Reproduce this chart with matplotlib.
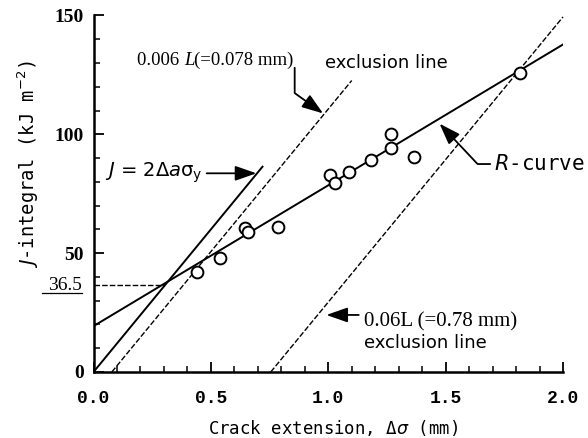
import matplotlib
matplotlib.use("Agg")
import matplotlib.pyplot as plt
from matplotlib.ticker import MultipleLocator
import numpy as np

plt.rcParams['mathtext.fontset'] = 'custom'
plt.rcParams['mathtext.rm'] = 'DejaVu Sans'
plt.rcParams['mathtext.it'] = 'DejaVu Sans:italic'
plt.rcParams['mathtext.bf'] = 'DejaVu Sans:bold'

# ---- data ----
crack_ext = [0.443, 0.538, 0.645, 0.659, 0.786, 1.006, 1.028, 1.089, 1.18, 1.269, 1.269, 1.364, 1.818]
j_values = [42.2, 48.1, 60.5, 58.8, 61.1, 82.9, 79.4, 84.3, 89.2, 94.1, 100.0, 90.6, 125.9]

rcurve_x = [0.0, 2.0]
rcurve_j = [19.3, 137.8]

sigma_y = 60.0                 # blunting line J = 2 * da * sigma_y
blunt_x = [0.0, 0.72]
excl1_x = [0.078, 1.10]        # 0.006L offset line
excl1_off = 0.078
excl2_x = [0.755, 2.0]         # 0.06L offset line
excl2_off = 0.755
j_ic = 36.5
j_ic_x = [0.0, 0.30]

x_ticks = [0.0, 0.5, 1.0, 1.5, 2.0]
x_ticklabels = ["0.0", "0.5", "1.0", "1.5", "2.0"]
y_ticks = [0, 50, 100, 150]

fig = plt.figure(figsize=(5.88, 4.38), dpi=100)
ax = fig.add_axes([93.5 / 588, 1 - 372 / 438, 469.5 / 588, 356.5 / 438])

dash = (0, (4, 1.5))
ax.plot(rcurve_x, rcurve_j, color='k', lw=1.4)
bx = np.array(blunt_x)
ax.plot(bx, 2 * sigma_y * bx, color='k', lw=1.4)
e1 = np.array(excl1_x)
ax.plot(e1, 2 * sigma_y * (e1 - excl1_off), color='k', lw=1.0, ls=dash)
e2 = np.array(excl2_x)
ax.plot(e2, 2 * sigma_y * (e2 - excl2_off), color='k', lw=1.0, ls=dash, clip_on=False)
ax.plot(j_ic_x, [j_ic, j_ic], color='k', lw=1.0, ls=dash)

ax.plot(crack_ext, j_values, ls='none', marker='o', ms=8.5, mfc='white', mec='k', mew=1.4,
        zorder=5, clip_on=False)

ax.set_xlim(0, 2.0)
ax.set_ylim(0, 150)
for s in ['top', 'right']:
    ax.spines[s].set_visible(False)
for s in ['left', 'bottom']:
    ax.spines[s].set_linewidth(1.8)

ax.set_xticks(x_ticks)
ax.set_xticklabels(x_ticklabels, family='Liberation Mono', weight='bold', fontsize=13)
ax.set_yticks(y_ticks)
ax.set_yticklabels([str(v) for v in y_ticks], family='Liberation Serif', weight='bold', fontsize=14)
ax.xaxis.set_minor_locator(MultipleLocator(0.1))
ax.yaxis.set_minor_locator(MultipleLocator(10))
ax.tick_params(axis='both', which='major', direction='in', length=7, width=1.3)
ax.tick_params(axis='both', which='minor', direction='in', length=4, width=1.1)
ax.tick_params(axis='x', which='major', pad=13)
ax.tick_params(axis='y', which='major', pad=7)

# axis labels
ax.text(0.51, -0.158, r"Crack extension, Δ$\sigma$ (mm)", transform=ax.transAxes,
        ha='center', va='center', fontsize=12.5, family='DejaVu Sans Mono')
ax.text(-0.138, 0.583, r"$J$-integral (kJ m$^{-2}$)", transform=ax.transAxes,
        ha='center', va='center', rotation=90, fontsize=13.5, family='DejaVu Sans Mono')

# 36.5 label with underline
ytr = ax.get_yaxis_transform()
ax.text(-0.025, j_ic - 2.1, "36.5", transform=ytr, ha='right', va='baseline',
        fontsize=14, family='Liberation Serif')
ax.plot([-0.110, -0.025], [j_ic - 3.1, j_ic - 3.1], transform=ytr,
        color='k', lw=0.9, clip_on=False)

arrow_kw = dict(arrowstyle='-|>,head_length=1.0,head_width=0.35', color='k', lw=1.3,
                shrinkA=0, shrinkB=0, mutation_scale=13)

# blunting line label
ax.text(0.049, 82.0, r"$J$ = 2Δ$a$σ$_{\mathrm{y}}$", ha='left', va='baseline',
        fontsize=14, family='DejaVu Sans')
ax.annotate("", xy=(0.694, 83.6), xytext=(0.482, 83.6), arrowprops=arrow_kw)

# 0.006L exclusion line label
t1 = ax.text(0.185, 129.2, "0.006 ", ha='left', va='baseline', fontsize=13.5, family='Liberation Serif')
t2 = ax.annotate("L", xy=(1, 0), xycoords=t1, ha='left', va='bottom', fontsize=13.5,
                 family='Liberation Serif', style='italic')
ax.annotate("(=0.078 mm)", xy=(1, 0), xycoords=t2, ha='left', va='bottom', fontsize=13.5,
            family='Liberation Serif')
ax.text(0.985, 128.0, "exclusion line", ha='left', va='baseline', fontsize=13, family='DejaVu Sans')
kw1 = dict(arrow_kw)
kw1['connectionstyle'] = "angle,angleA=90,angleB=-35.6,rad=0"
ax.annotate("", xy=(0.978, 108.8), xytext=(0.857, 128.0), arrowprops=kw1)

# R-curve label
ax.text(1.708, 87.5, r"$R$-curve", ha='left', va='center', fontsize=15, family='DejaVu Sans Mono')
kw2 = dict(arrow_kw)
kw2['connectionstyle'] = "angle,angleA=180,angleB=133.3,rad=0"
ax.annotate("", xy=(1.474, 104.5), xytext=(1.69, 87.5), arrowprops=kw2)

# 0.06L exclusion line label
ax.text(1.153, 19.0, "0.06L (=0.78 mm)", ha='left', va='baseline', fontsize=15, family='Liberation Serif')
ax.text(1.153, 10.3, "exclusion line", ha='left', va='baseline', fontsize=13, family='DejaVu Sans')
ax.annotate("", xy=(0.992, 24.0), xytext=(1.13, 24.0), arrowprops=arrow_kw)

fig.savefig("out.png", dpi=100)
